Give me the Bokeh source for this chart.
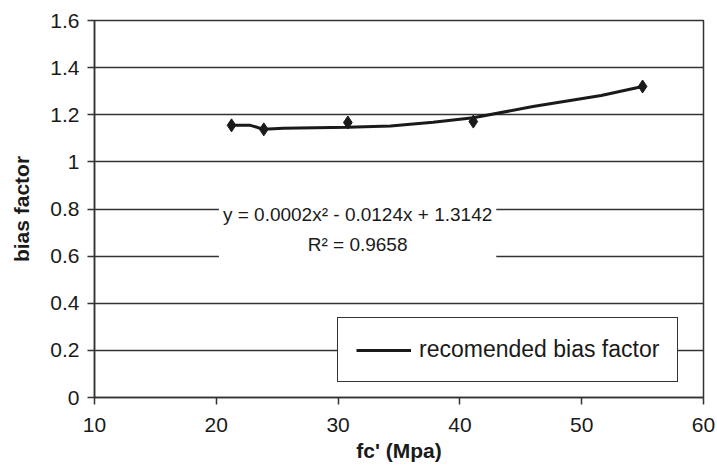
from bokeh.plotting import figure
from bokeh.models import FixedTicker, Legend, LegendItem, Label, Range1d
from bokeh.embed import file_html
from bokeh.resources import INLINE

# data
fc = [21.25, 23.9, 30.8, 41.1, 55.0]
bias = [1.155, 1.138, 1.167, 1.171, 1.32]

curve_x = [21.25, 22.8, 23.9, 25.5, 30.8, 34.3, 37.8, 41.1, 46.0, 51.6, 55.0]
curve_y = [1.155, 1.155, 1.138, 1.143, 1.147, 1.152, 1.168, 1.187, 1.235, 1.282, 1.32]

x_ticks = [10, 20, 30, 40, 50, 60]
y_ticks = [0, 0.2, 0.4, 0.6, 0.8, 1.0, 1.2, 1.4, 1.6]
y_tick_labels = ["0", "0.2", "0.4", "0.6", "0.8", "1", "1.2", "1.4", "1.6"]

eq_text = "y = 0.0002x\u00b2 - 0.0124x + 1.3142\nR\u00b2 = 0.9658"
legend_label = "recomended bias factor"

FONT = "Liberation Sans"
DARK = "#333333"
INK = "#1a1a1a"

p = figure(width=717, height=470, output_backend="svg", toolbar_location=None,
           x_range=Range1d(10, 60), y_range=Range1d(0, 1.6),
           min_border_left=94, min_border_right=14, min_border_top=20, min_border_bottom=73)
p.background_fill_color = "white"
p.border_fill_color = "white"
p.outline_line_color = DARK
p.outline_line_width = 1.5

p.xgrid.visible = False
p.ygrid.ticker = FixedTicker(ticks=y_ticks)
p.ygrid.grid_line_color = DARK
p.ygrid.grid_line_width = 1.5

for ax in (p.xaxis[0], p.yaxis[0]):
    ax.axis_line_color = DARK
    ax.axis_line_width = 1.5
    ax.major_tick_line_color = DARK
    ax.major_tick_line_width = 1.5
    ax.major_tick_in = 0
    ax.major_tick_out = 7
    ax.minor_tick_line_color = None
    ax.major_label_text_font = FONT
    ax.major_label_text_color = INK
    ax.axis_label_text_font = FONT
    ax.axis_label_text_font_style = "bold"
    ax.axis_label_text_color = INK

p.xaxis.ticker = FixedTicker(ticks=x_ticks)
p.yaxis.ticker = FixedTicker(ticks=y_ticks)
p.yaxis.major_label_overrides = {t: l for t, l in zip(y_ticks, y_tick_labels)}

p.xaxis.major_label_text_font_size = "21px"
p.yaxis.major_label_text_font_size = "21px"
p.xaxis.major_label_standoff = 13
p.yaxis.major_label_standoff = 8
p.xaxis.axis_label = "fc' (Mpa)"
p.yaxis.axis_label = "bias factor"
p.xaxis.axis_label_text_font_size = "21px"
p.yaxis.axis_label_text_font_size = "21px"
p.xaxis.axis_label_standoff = 4
p.yaxis.axis_label_standoff = 14

line_r = p.line(curve_x, curve_y, line_color=INK, line_width=3)
p.scatter(fc, bias, marker="diamond", size=13, fill_color=INK, line_color=INK)

eq = Label(x=31.6, y=0.713, text=eq_text, text_align="center", text_baseline="middle",
           text_font=FONT, text_font_size="19px", text_color=INK, text_line_height=1.4,
           background_fill_color="white", padding=4)
p.add_layout(eq)

legend = Legend(items=[LegendItem(label=legend_label, renderers=[line_r])],
                location=(243, 15), orientation="vertical")
legend.border_line_color = DARK
legend.border_line_alpha = 1
legend.border_line_width = 1.5
legend.background_fill_color = "white"
legend.background_fill_alpha = 1
legend.padding = 18
legend.margin = 0
legend.spacing = 0
legend.glyph_width = 55
legend.glyph_height = 20
legend.label_standoff = 8
legend.label_text_font = FONT
legend.label_text_font_size = "23px"
legend.label_text_color = INK
legend.label_height = 20
p.add_layout(legend)

open("out.html", "w").write(file_html(p, INLINE))
